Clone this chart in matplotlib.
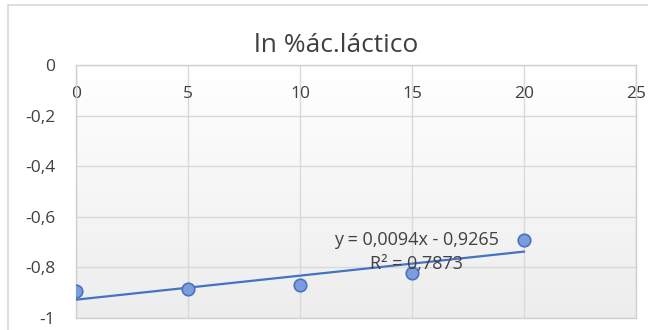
import numpy as np
import matplotlib
matplotlib.use("Agg")
import matplotlib.pyplot as plt
from matplotlib.patches import Rectangle
from matplotlib.colors import LinearSegmentedColormap

plt.rcParams['font.family'] = ['DejaVu Sans']

# data
x_vals = [0, 5, 10, 15, 20]
y_vals = [-0.895, -0.887, -0.869, -0.822, -0.690]
x_ticks = [0, 5, 10, 15, 20, 25]
y_ticks = [0, -0.2, -0.4, -0.6, -0.8, -1]
y_tick_labels = ['0', '-0,2', '-0,4', '-0,6', '-0,8', '-1']
title = 'ln %ác.láctico'
eq_text = 'y = 0,0094x - 0,9265'
r2_text = 'R² = 0,7873'

FONT = 'Open Sans'

fig = plt.figure(figsize=(6.48, 3.30), dpi=100)
fig.patch.set_facecolor('white')

# outer chart border
fig.patches.append(Rectangle((8/648, -0.1), 1.1, 1 - 5/330 + 0.1, transform=fig.transFigure,
                             fill=False, edgecolor='#d9d9d9', linewidth=1.2))

ax = fig.add_axes([76/648, 1 - 318/330, (636 - 76)/648, (318 - 65)/330])
ax.set_xlim(0, 25)
ax.set_ylim(-1, 0)

# subtle gradient background (white top -> light gray bottom)
grad = np.linspace(0.0, 1.0, 256).reshape(-1, 1)
cmap = LinearSegmentedColormap.from_list('g', ['#ffffff', '#ededed'])
ax.imshow(grad, extent=[0, 25, -1, 0], aspect='auto', cmap=cmap, zorder=0, origin='upper')

ax.set_xticks(x_ticks)
ax.set_xticklabels([str(t) for t in x_ticks], family=FONT)
ax.set_yticks(y_ticks)
ax.set_yticklabels(y_tick_labels, family=FONT)
ax.grid(True, color='#d9d9d9', linewidth=1.0, zorder=1)
ax.set_axisbelow(True)
for s in ax.spines.values():
    s.set_color('#d0d0d0')
    s.set_linewidth(1.0)

ax.tick_params(axis='x', top=False, bottom=False, labeltop=True, labelbottom=False,
               length=0, pad=-27, labelsize=12.5, colors='#404040')
ax.tick_params(axis='y', length=0, pad=15, labelsize=12.5, colors='#404040')

# trendline
coef = np.polyfit(x_vals, y_vals, 1)
xl = np.array([min(x_vals), max(x_vals)])
ax.plot(xl, np.polyval(coef, xl), color='#4472c4', linewidth=1.6, zorder=3)

ax.plot(x_vals, y_vals, 'o', markersize=9, markerfacecolor='#7b9ddb',
        markeredgecolor='#4a72c0', markeredgewidth=1.2, zorder=4, linestyle='none')

ax.text(15.18, -0.692, eq_text, ha='center', va='center', fontsize=13, color='#404040',
        zorder=5, family=FONT)
ax.text(15.18, -0.787, r2_text, ha='center', va='center', fontsize=13, color='#404040',
        zorder=5, family=FONT)

fig.text(336/648, 1 - 45/330, title, ha='center', va='center', fontsize=19,
         color='#404040', family=FONT)

fig.savefig('out.png', dpi=100)
